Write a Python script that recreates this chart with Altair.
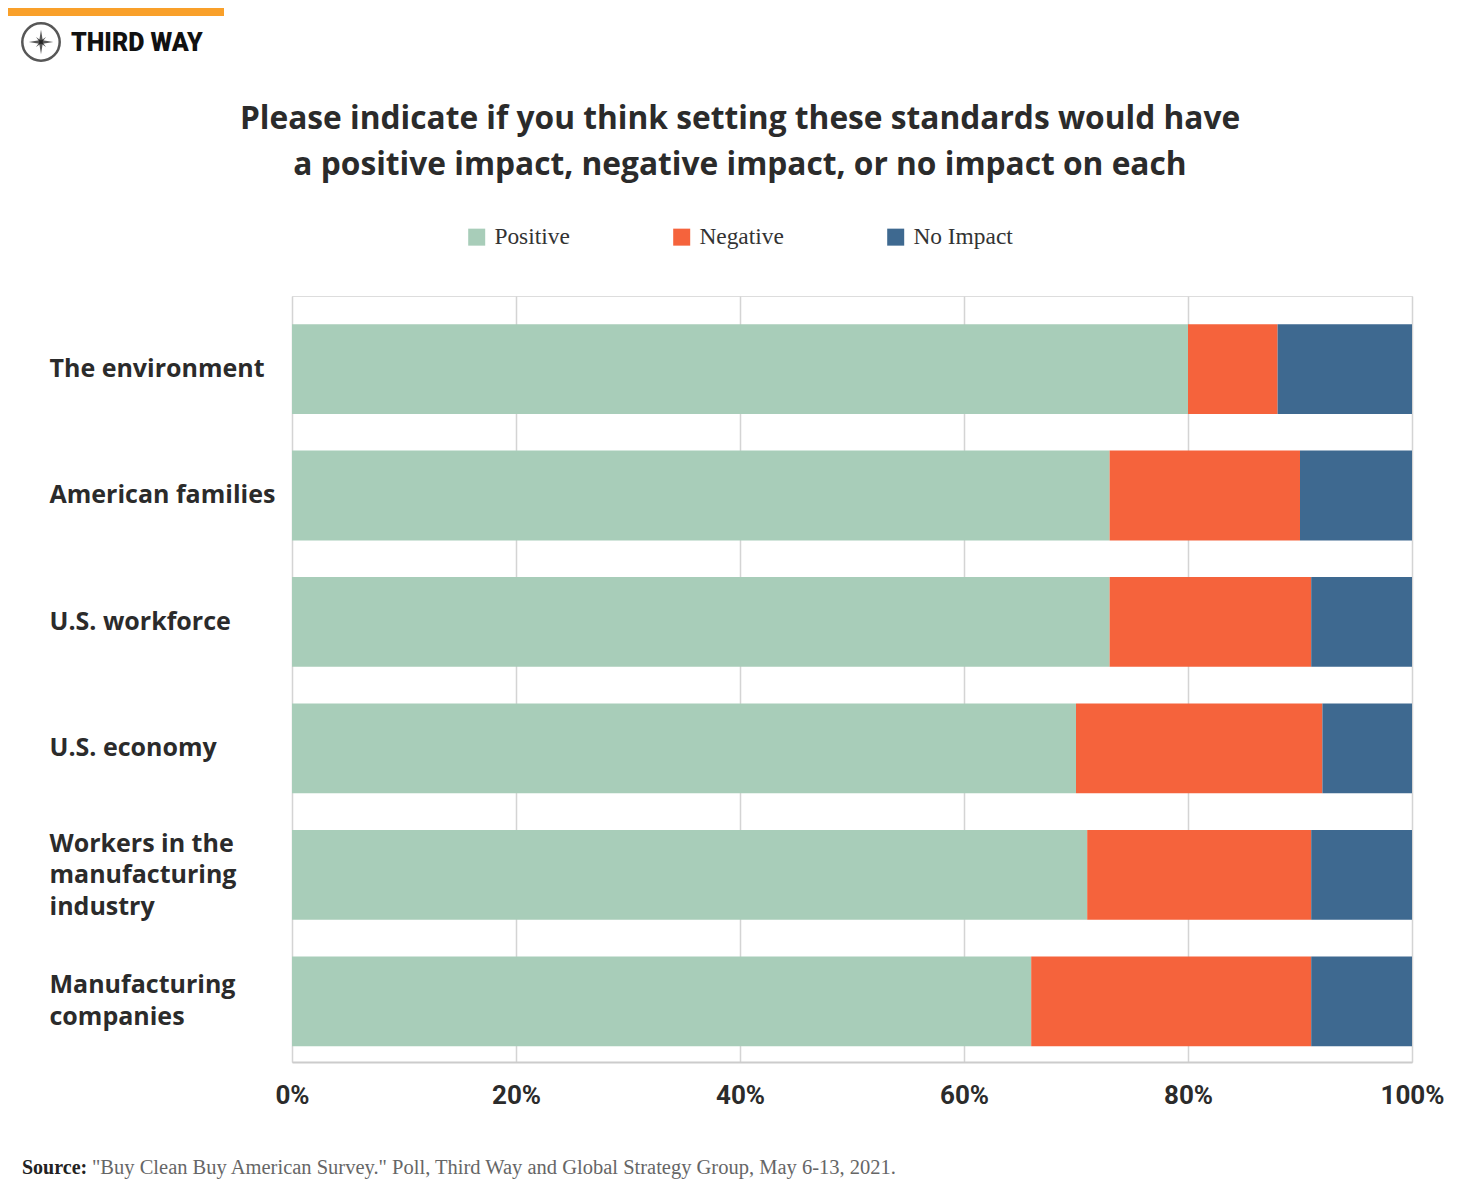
import altair as alt
import pandas as pd

categories = ["The environment", "American families", "U.S. workforce", "U.S. economy",
              "Workers in the|manufacturing|industry", "Manufacturing|companies"]
responses = ["Positive", "Negative", "No Impact"]
positive = [80, 73, 73, 70, 71, 66]
negative = [8, 17, 18, 22, 20, 25]
no_impact = [12, 10, 9, 8, 9, 9]
colors = ["#a8cdb9", "#f5633c", "#3e6990"]
tick_values = [0, 20, 40, 60, 80, 100]
title_lines = ["Please indicate if you think setting these standards would have",
               "a positive impact, negative impact, or no impact on each"]
source_label = "Source:"
source_text = "\"Buy Clean Buy American Survey.\" Poll, Third Way and Global Strategy Group, May 6-13, 2021."

rows = []
for i, c in enumerate(categories):
    for j, (r, v) in enumerate(zip(responses, [positive[i], negative[i], no_impact[i]])):
        rows.append({"category": c, "response": r, "value": v, "order": j})
df = pd.DataFrame(rows)

label_offset = {
    "condition": [
        {"test": "length(split(datum.value, '|')) == 3", "value": -31},
        {"test": "length(split(datum.value, '|')) == 2", "value": -16},
    ],
    "value": 0,
}

bars = alt.Chart(df).mark_bar().encode(
    y=alt.Y("category:N", sort=categories,
            scale=alt.Scale(paddingInner=0.29, paddingOuter=0.174, align=0.64),
            axis=alt.Axis(title=None, domain=False, ticks=False, grid=False,
                          labelAlign="left", labelPadding=243, labelBaseline="middle",
                          labelFont="Open Sans", labelFontWeight="bold", labelFontSize=25,
                          labelColor="#2b2b2b", labelLineHeight=31.5, labelOffset=label_offset,
                          labelExpr="split(datum.label, '|')", labelLimit=300)),
    x=alt.X("value:Q", stack="zero", scale=alt.Scale(domain=[0, 100], nice=False),
            axis=alt.Axis(title=None, values=tick_values, grid=True, gridColor="#d4d4d4",
                          gridWidth=1.5, domainColor="#cccccc", domainWidth=2, ticks=False,
                          labelExpr="datum.value + '%'", labelPadding=20,
                          labelFont="Roboto", labelFontWeight="bold", labelFontSize=26,
                          labelColor="#2b2b2b", labelFlush=False)),
    color=alt.Color("response:N", sort=responses,
                    scale=alt.Scale(domain=responses, range=colors),
                    legend=alt.Legend(title=None, orient="none", legendX=173, legendY=-71,
                                      direction="horizontal", symbolType="square",
                                      symbolSize=289, symbolStrokeWidth=0, labelOffset=6,
                                      columnPadding=100, labelFont="Liberation Serif",
                                      labelFontSize=23.4, labelColor="#333333")),
    order=alt.Order("order:Q"),
)

one = pd.DataFrame({"t": [""]})

orange = alt.Chart(one).mark_rect(color="#f9a02a").encode(
    x=alt.value(-284), x2=alt.value(-68), y=alt.value(-288), y2=alt.value(-280))

ring = alt.Chart(one).mark_point(shape="circle", filled=False, stroke="#111111",
                                 strokeWidth=2.5, size=1400).encode(
    x=alt.value(-251), y=alt.value(-254))

star_path = "M0,-1L0.14,-0.14L1,0L0.14,0.14L0,1L-0.14,0.14L-1,0L-0.14,-0.14Z"
star = alt.Chart(one).mark_point(shape=star_path, filled=True, color="#111111",
                                 size=600, strokeWidth=0).encode(
    x=alt.value(-251), y=alt.value(-254))
star2 = alt.Chart(one).mark_point(shape=star_path, filled=True, color="#111111",
                                  size=200, angle=45, strokeWidth=0).encode(
    x=alt.value(-251), y=alt.value(-254))

logo_text = alt.Chart(one).mark_text(text="THIRD WAY", font="Roboto", fontWeight=900,
                                     fontSize=25, color="#111111", align="left",
                                     baseline="alphabetic").encode(
    x=alt.value(-221), y=alt.value(-245))

title1 = alt.Chart(one).mark_text(text=title_lines[0], font="Open Sans", fontWeight="bold",
                                  fontSize=31.7, color="#2b2b2b", align="center",
                                  baseline="middle").encode(
    x=alt.value(448), y=alt.value(-177))
title2 = alt.Chart(one).mark_text(text=title_lines[1], font="Open Sans", fontWeight="bold",
                                  fontSize=31.7, color="#2b2b2b", align="center",
                                  baseline="middle").encode(
    x=alt.value(448), y=alt.value(-131))

src_bold = alt.Chart(one).mark_text(text=source_label, font="Liberation Serif", fontWeight="bold",
                                    fontSize=20, color="#222222", align="left",
                                    baseline="alphabetic").encode(
    x=alt.value(-270), y=alt.value(878))
src_rest = alt.Chart(one).mark_text(text=source_text, font="Liberation Serif", fontSize=20.5,
                                    color="#666666", align="left",
                                    baseline="alphabetic").encode(
    x=alt.value(-200), y=alt.value(878))

chart = alt.layer(bars, orange, ring, star, star2, logo_text, title1, title2,
                  src_bold, src_rest).properties(
    width=1120, height=766,
    padding={"left": 284, "top": 288, "right": 60, "bottom": 130},
    autosize=alt.AutoSizeParams(type="none"),
).configure_view(stroke=None).configure(background="white")

chart.save("out.html", embed_options={"renderer": "svg", "actions": False})
